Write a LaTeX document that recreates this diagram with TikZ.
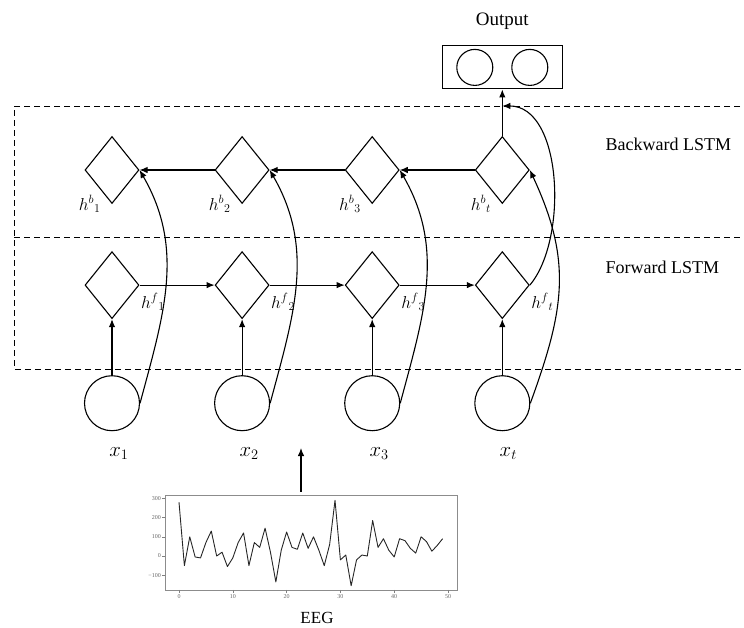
\documentclass[tikz,border=0pt]{standalone}
\usepackage{fontspec}
\setmainfont{Liberation Serif}
\usetikzlibrary{positioning,calc,shapes.geometric,arrows.meta}

\begin{document}
\begin{tikzpicture}[
  x = 1pt,
  y = -1pt,
  line width = 1.1pt,
  node distance = 75pt,
  lstm-cell/.style={diamond,draw,minimum width=54pt,minimum height=67pt,inner sep=0pt},
  input-node/.style={circle,draw,minimum size=55pt,inner sep=0pt},
  output-unit/.style={circle,draw,minimum size=36pt,inner sep=0pt},
  data-arrow/.style={-{Latex[length=8pt,width=6.5pt]}},
  layer-border/.style={dash pattern=on 6pt off 4pt,line width=1pt},
  state-label/.style={inner sep=0pt,font=\fontsize{18}{18}\selectfont},
  input-label/.style={inner sep=0pt,font=\fontsize{21}{21}\selectfont},
  layer-label/.style={inner sep=0pt,anchor=west,font=\fontsize{18}{18}\selectfont},
  tick-label/.style={inner sep=1pt,text=black!60,font=\fontsize{6}{6}\selectfont},
  ]
  \useasboundingbox (0,0) rectangle (744,627);

  \draw[layer-border] (750,106) -| (14,369) -- (750,369);
  \draw[layer-border] (14,237) -- (750,237);
  \node[layer-label] (backward) at (605,144) {Backward LSTM};
  \node[layer-label] (forward) at (605,267) {Forward LSTM};

  \node[lstm-cell] (hb1) at (112,170) {};
  \node[lstm-cell,right=of hb1] (hb2) {};
  \node[lstm-cell,right=of hb2] (hb3) {};
  \node[lstm-cell,right=of hb3] (hbt) {};

  \node[lstm-cell,below=47pt of hb1] (hf1) {};
  \node[lstm-cell,below=47pt of hb2] (hf2) {};
  \node[lstm-cell,below=47pt of hb3] (hf3) {};
  \node[lstm-cell,below=47pt of hbt] (hft) {};

  \node[input-node,below=56pt of hf1] (x1) {};
  \node[input-node,below=56pt of hf2] (x2) {};
  \node[input-node,below=56pt of hf3] (x3) {};
  \node[input-node,below=56pt of hft] (xt) {};

  \node[draw,minimum width=120pt,minimum height=43pt,inner sep=0pt,above=46.5pt of hbt] (output) {};
  \node[output-unit] (o1) at ($(output.center)+(-27.5,0)$) {};
  \node[output-unit] (o2) at ($(output.center)+(27.5,0)$) {};
  \node[inner sep=0pt,font=\fontsize{19}{19}\selectfont,above=15pt of output] (output-title) {Output};

  \node[state-label,left=11pt of hb1.south] {$h^{b}{}_{1}$};
  \node[state-label,left=11pt of hb2.south] {$h^{b}{}_{2}$};
  \node[state-label,left=11pt of hb3.south] {$h^{b}{}_{3}$};
  \node[state-label,left=11pt of hbt.south] {$h^{b}{}_{t}$};
  \node[state-label,below right=8pt and 1pt of hf1.east] {$h^{f}{}_{1}$};
  \node[state-label,below right=8pt and 1pt of hf2.east] {$h^{f}{}_{2}$};
  \node[state-label,below right=8pt and 1pt of hf3.east] {$h^{f}{}_{3}$};
  \node[state-label,below right=8pt and 1pt of hft.east] {$h^{f}{}_{t}$};
  \node[input-label,below=16pt of x1,xshift=7pt] {$x_{1}$};
  \node[input-label,below=16pt of x2,xshift=7pt] {$x_{2}$};
  \node[input-label,below=16pt of x3,xshift=7pt] {$x_{3}$};
  \node[input-label,below=16pt of xt,xshift=6pt] {$x_{t}$};

  \draw[data-arrow] (x1) -- (hf1);
  \draw[data-arrow] (x2) -- (hf2);
  \draw[data-arrow] (x3) -- (hf3);
  \draw[data-arrow] (xt) -- (hft);
  \draw[data-arrow] (hf1) -- (hf2);
  \draw[data-arrow] (hf2) -- (hf3);
  \draw[data-arrow] (hf3) -- (hft);
  \draw[data-arrow] (hbt) -- (hb3);
  \draw[data-arrow] (hb3) -- (hb2);
  \draw[data-arrow] (hb2) -- (hb1);
  \draw[data-arrow] (hbt) -- (output);

  \draw[data-arrow] (x1.east) to[out=75,in=-60] (hb1.east);
  \draw[data-arrow] (x2.east) to[out=75,in=-60] (hb2.east);
  \draw[data-arrow] (x3.east) to[out=75,in=-60] (hb3.east);
  \draw[data-arrow] (xt.east) to[out=70,in=-65,looseness=1.1] (hbt.east);
  \coordinate (merge) at ($(hbt.north)+(0,-30)$);
  \draw[data-arrow] (hft.east) to[out=50,in=0,looseness=0.85] (merge);

  \node[draw=black!45,line width=0.6pt,minimum width=292pt,minimum height=95pt,inner sep=0pt] (eeg) at (311,542.5) {};
  \begin{scope}[shift={(179,556)},x=5.38pt,y=0.192pt]
    \draw[line width=0.9pt,black!85,line join=round] plot coordinates {
      (0,280) (1,-50) (2,100) (3,-5) (4,-10) (5,70) (6,130) (7,0) (8,20) (9,-55)
      (10,-10) (11,70) (12,120) (13,-50) (14,70) (15,45) (16,145) (17,20) (18,-135) (19,30)
      (20,125) (21,45) (22,35) (23,120) (24,40) (25,100) (26,30) (27,-50) (28,60) (29,290)
      (30,-20) (31,5) (32,-155) (33,-20) (34,5) (35,0) (36,185) (37,45) (38,90) (39,30)
      (40,-5) (41,90) (42,80) (43,40) (44,15) (45,100) (46,75) (47,25) (48,55) (49,90)};
    \foreach \v/\txt in {-100/−100,0/0,100/100,200/200,300/300}
      \draw[black!50,line width=0.4pt] (-2.6,\v) -- ++(-3pt,0) node[tick-label,left] {\txt};
    \foreach \t in {0,10,...,50}
      \draw[black!50,line width=0.4pt] (\t,-177) -- ++(0,-3pt) node[tick-label,below] {\t};
  \end{scope}
  \coordinate (eeg-in) at (301,448);
  \draw[data-arrow,shorten <=3pt] (eeg.north -| eeg-in) -- (eeg-in);
  \node[inner sep=0pt,font=\fontsize{17}{17}\selectfont,below=21pt of eeg,xshift=6pt] (eeg-title) {EEG};
\end{tikzpicture}
\end{document}
